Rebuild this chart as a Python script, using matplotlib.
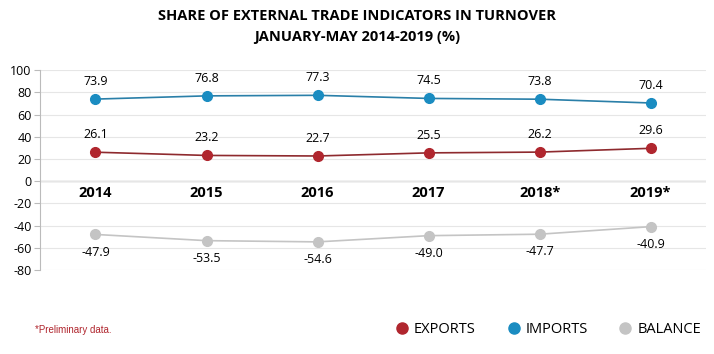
import numpy as np
import matplotlib.pyplot as plt
from matplotlib.lines import Line2D

years = ["2014", "2015", "2016", "2017", "2018*", "2019*"]
exports = [26.1, 23.2, 22.7, 25.5, 26.2, 29.6]
imports = [73.9, 76.8, 77.3, 74.5, 73.8, 70.4]
balance = [-47.9, -53.5, -54.6, -49.0, -47.7, -40.9]

c_exp = "#b0262e"
c_imp = "#1a8cc1"
c_bal = "#c4c4c4"

plt.rcParams['font.family'] = ['Open Sans', 'DejaVu Sans']
plt.rcParams['axes.unicode_minus'] = False

fig = plt.figure(figsize=(7.14, 3.54), dpi=100)
ax = fig.add_axes([0.056, 0.237, 0.933, 0.565])

x = np.arange(len(years))
ax.plot(x, imports, color="#2a7fa8", lw=1.2, marker="o", ms=7,
        mfc=c_imp, mec=c_imp, zorder=3)
ax.plot(x, exports, color="#8e2a2e", lw=1.2, marker="o", ms=7,
        mfc=c_exp, mec=c_exp, zorder=3)
ax.plot(x, balance, color=c_bal, lw=1.2, marker="o", ms=7,
        mfc=c_bal, mec=c_bal, zorder=3)

for i in range(len(years)):
    ax.annotate(f"{imports[i]:.1f}", (x[i], imports[i]), xytext=(0, 8),
                textcoords="offset points", ha="center", va="bottom", fontsize=9)
    ax.annotate(f"{exports[i]:.1f}", (x[i], exports[i]), xytext=(0, 8),
                textcoords="offset points", ha="center", va="bottom", fontsize=9)
    ax.annotate(f"{balance[i]:.1f}", (x[i], balance[i]), xytext=(0, -8),
                textcoords="offset points", ha="center", va="top", fontsize=9)
    ax.text(x[i], -11, years[i], ha="center", va="center", fontsize=10.5,
            fontweight="bold")

ax.set_xlim(-0.5, len(years) - 0.5)
ax.set_ylim(-80, 100)
ax.set_yticks(np.arange(-80, 101, 20))
ax.set_xticks([])
ax.tick_params(axis="y", labelsize=9, length=4, color="#bbbbbb", pad=2)
ax.grid(axis="y", color="#e6e6e6", lw=0.8)
ax.axhline(0, color="#bbbbbb", lw=1, zorder=1)
for s in ["top", "right", "bottom"]:
    ax.spines[s].set_visible(False)
ax.spines["left"].set_color("#bbbbbb")

fig.text(0.5, 0.955, "SHARE OF EXTERNAL TRADE INDICATORS IN TURNOVER",
         ha="center", va="center", fontsize=10.5, fontweight="bold")
fig.text(0.5, 0.895, "JANUARY-MAY 2014-2019 (%)",
         ha="center", va="center", fontsize=10.5, fontweight="bold")

fig.text(0.049, 0.068, "*Preliminary data.", color="#b0262e", fontsize=7,
         ha="left", va="center", family=["Liberation Sans", "DejaVu Sans"])

handles = [Line2D([], [], ls="", marker="o", ms=8, color=c) for c in (c_exp, c_imp, c_bal)]
fig.legend(handles, ["EXPORTS", "IMPORTS", "BALANCE"], loc="center right",
           bbox_to_anchor=(1.0, 0.068), ncol=3, frameon=False, fontsize=10.5,
           handletextpad=0.2, columnspacing=2.0, handlelength=1.2)

fig.savefig("out.png", dpi=100)
